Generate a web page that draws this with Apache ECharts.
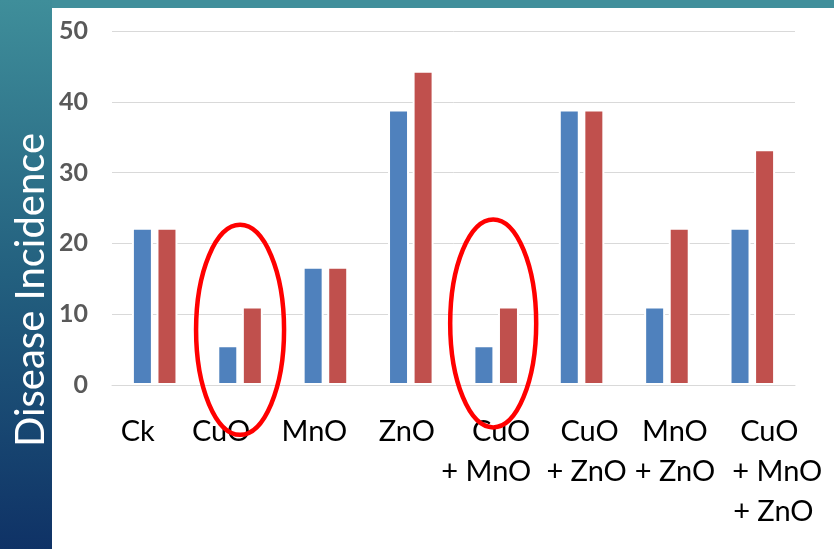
<!DOCTYPE html>
<html>
<head>
<meta charset="utf-8">
<title>Disease Incidence</title>
<script src="https://cdn.jsdelivr.net/npm/echarts@6/dist/echarts.min.js"></script>
<style>
  html, body { margin: 0; padding: 0; background: #ffffff; }
  #chart { width: 834px; height: 549px; }
</style>
</head>
<body>
<div id="chart"></div>
<script>
// Treatments (multi-line names break on "\n")
const categories = ['Ck', 'CuO', 'MnO', 'ZnO', 'CuO\n+ MnO', 'CuO\n+ ZnO', 'MnO\n+ ZnO', 'CuO\n+ MnO\n+ ZnO'];
// Disease incidence (%) for the two series
const blueValues = [22.2, 5.6, 16.7, 38.9, 5.6, 38.9, 11.1, 22.2];
const redValues = [22.2, 11.1, 16.7, 44.4, 11.1, 38.9, 22.2, 33.3];
// Value axis
const yMin = 0;
const yMax = 50;
const yStep = 10;
const axisTitle = 'Disease Incidence';
// Treatments circled in red
const highlighted = ['CuO', 'CuO\n+ MnO'];

// Horizontal nudge (px) of each label line, per category
const lineShift = [
  [-17],
  [-19],
  [-11],
  [-4],
  [5, -10],
  [8, 5],
  [8, 8],
  [17, 25, 21]
];

const labelFont = 'Lato, "Open Sans", sans-serif';
const rich = {};
lineShift.forEach(function (shifts, i) {
  shifts.forEach(function (d, j) {
    rich['t' + i + '_' + j] = {
      fontFamily: labelFont,
      fontSize: 29,
      lineHeight: 40,
      color: '#000000',
      align: 'center',
      padding: [0, d < 0 ? -2 * d : 0, 0, d > 0 ? 2 * d : 0]
    };
  });
});

const chart = echarts.init(document.getElementById('chart'), null, { renderer: 'canvas' });

const option = {
  backgroundColor: '#ffffff',
  animation: false,
  grid: { left: 112, right: 39, top: 31, bottom: 164, containLabel: false },
  xAxis: {
    type: 'category',
    data: categories,
    axisLine: { lineStyle: { color: '#D9D9D9', width: 1 } },
    axisTick: { show: false },
    axisLabel: {
      interval: 0,
      margin: 27,
      formatter: function (value, index) {
        return value.split('\n').map(function (line, j) {
          return '{t' + index + '_' + j + '|' + line + '}';
        }).join('\n');
      },
      rich: rich
    }
  },
  yAxis: {
    type: 'value',
    min: yMin,
    max: yMax,
    interval: yStep,
    axisLine: { show: false },
    axisTick: { show: false },
    splitLine: { lineStyle: { color: '#D9D9D9', width: 1 } },
    axisLabel: {
      margin: 24,
      color: '#595959',
      fontFamily: labelFont,
      fontWeight: 'bold',
      fontSize: 25
    }
  },
  series: [
    {
      type: 'bar',
      data: blueValues,
      barWidth: 21,
      barGap: '17%',
      itemStyle: { color: '#4F81BD', borderColor: '#ffffff', borderWidth: 2 }
    },
    {
      type: 'bar',
      data: redValues,
      barWidth: 21,
      itemStyle: { color: '#C0504D', borderColor: '#ffffff', borderWidth: 2 }
    }
  ],
  graphic: [
    {
      type: 'rect',
      left: 0, top: 0, z: -10, silent: true,
      shape: { width: 52, height: 549 },
      style: {
        fill: new echarts.graphic.LinearGradient(0, 0, 0, 1, [
          { offset: 0, color: '#3F8E9A' },
          { offset: 0.5, color: '#23607F' },
          { offset: 1, color: '#0F3266' }
        ])
      }
    },
    {
      type: 'rect',
      left: 52, top: 0, z: -10, silent: true,
      shape: { width: 782, height: 8 },
      style: { fill: '#418F9B' }
    },
    {
      type: 'text',
      x: 31, y: 290, rotation: Math.PI / 2, z: 10, silent: true,
      style: {
        text: axisTitle,
        fill: '#ffffff',
        font: '40px ' + labelFont,
        align: 'center',
        verticalAlign: 'middle'
      }
    }
  ]
};

chart.setOption(option);

// Red ellipses around the highlighted treatments
const ringCentres = [7.8, 8.7];
const ringDx = [0, -3];
const ringSize = [[44, 105], [43, 104]];
const rings = highlighted.map(function (cat, i) {
  const p = chart.convertToPixel({ xAxisIndex: 0, yAxisIndex: 0 }, [cat, ringCentres[i]]);
  return {
    type: 'ellipse',
    z: 20, silent: true,
    shape: { cx: p[0] + ringDx[i], cy: p[1], rx: ringSize[i][0], ry: ringSize[i][1] },
    style: { fill: null, stroke: '#FF0000', lineWidth: 4.5 }
  };
});
chart.setOption({ graphic: option.graphic.concat(rings) });
</script>
</body>
</html>
